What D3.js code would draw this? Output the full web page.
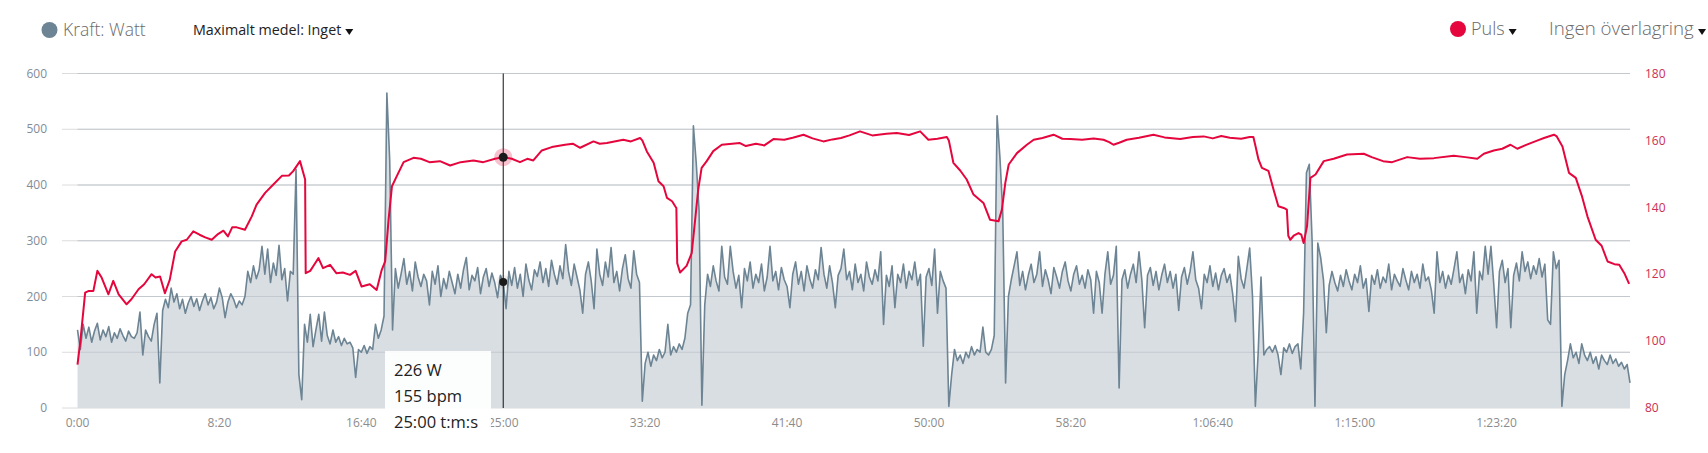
<!DOCTYPE html>
<html>
<head>
<meta charset="utf-8">
<script src="https://cdn.jsdelivr.net/npm/d3@7"></script>
<style>
  body { margin: 0; background: #fff; }
  svg { font-family: "Open Sans", "Noto Sans", sans-serif; display: block; }
</style>
</head>
<body>
<div id="graph"></div>
<script>
// power in watts, one sample every 10 seconds starting at 0:00
const STEP = 10;
const power = [
  140,105,150,125,145,118,138,152,122,140,
  128,146,118,135,125,142,130,120,138,128,
  125,135,172,95,140,128,120,150,170,45,
  175,195,180,215,190,205,178,195,170,188,
  200,182,196,175,192,205,185,198,178,190,
  215,198,162,190,205,195,180,192,185,200,
  245,225,255,232,248,290,240,285,225,260,
  238,292,230,250,192,245,240,428,60,15,
  150,118,168,110,140,168,120,172,130,115,
  140,118,128,112,125,115,118,108,55,105,
  100,112,98,110,105,150,125,140,165,565,
  445,140,250,215,240,268,222,245,210,262,
  235,218,240,228,185,245,222,255,200,232,
  214,245,225,205,240,215,248,270,212,238,
  228,252,205,235,250,218,242,225,198,238,
  226,178,245,220,252,215,240,200,258,230,
  212,248,236,262,225,250,218,265,240,222,
  255,232,293,245,220,258,235,212,170,240,
  262,228,178,285,240,220,262,235,288,225,
  245,210,250,275,232,215,282,240,225,12,
  80,100,75,95,85,105,90,100,150,95,
  110,100,115,105,125,170,185,506,440,355,
  5,185,240,218,255,228,210,290,235,222,
  290,245,215,238,180,250,228,262,215,240,
  225,258,210,235,290,228,245,212,252,230,
  218,180,240,262,222,245,210,255,232,215,
  248,230,288,240,215,255,225,180,238,250,
  285,230,245,212,258,225,240,210,262,235,
  222,248,228,280,150,238,218,255,180,240,
  225,258,215,245,230,262,220,240,111,235,
  250,220,285,170,245,228,215,3,60,105,
  85,95,80,100,90,110,95,105,100,145,
  100,95,105,130,524,450,350,45,200,230,
  255,280,220,245,212,238,258,225,240,280,
  218,248,230,205,252,235,215,245,262,228,
  210,240,255,222,238,215,248,230,170,245,
  225,170,240,280,222,238,290,36,230,248,
  215,240,258,225,280,230,144,238,252,220,
  245,212,238,258,225,245,215,240,175,235,
  252,222,245,280,230,215,178,240,225,255,
  218,242,212,238,250,225,240,205,155,272,
  232,215,250,287,200,3,100,235,95,105,
  110,100,112,95,60,108,100,115,98,110,
  115,70,170,422,437,300,3,296,270,230,
  135,220,245,225,210,238,218,248,228,212,
  240,225,255,215,232,173,238,222,248,215,
  235,225,258,212,240,228,218,250,230,212,
  245,225,240,215,258,228,235,212,170,280,
  225,245,215,238,222,250,280,225,240,205,
  248,228,280,170,245,230,290,240,290,222,
  144,245,265,225,250,144,238,260,228,280,
  245,262,232,255,240,268,235,258,158,150,
  280,250,265,3,60,85,115,90,100,80,
  115,95,85,100,80,92,70,95,85,78,
  95,80,88,75,82,70,78,45
];

// heart rate (bpm) read at these times (seconds)
const hrTimes = [
  0,10,27,40,56,70,85,109,126,145,173,190,215,235,261,275,291,308,325,344,
  367,385,408,430,450,473,495,514,530,545,561,590,614,631,661,690,720,745,760,784,
  802,804,820,835,849,865,890,912,935,960,980,1001,1030,1054,1072,1084,1096,1108,1125,1149,
  1184,1210,1240,1277,1313,1350,1395,1430,1471,1502,1530,1559,1585,1606,1636,1671,1718,1745,1771,1818,
  1840,1865,1923,1950,1982,1990,2006,2030,2047,2065,2077,2095,2106,2110,2113,2123,2146,2164,2175,2187,
  2199,2217,2240,2270,2334,2355,2390,2420,2452,2490,2520,2558,2590,2628,2660,2690,2720,2757,2800,2850,
  2887,2930,2969,2998,3030,3063,3070,3086,3110,3133,3157,3192,3215,3245,3257,3269,3281,3310,3345,3369,
  3400,3439,3470,3498,3540,3580,3615,3635,3650,3670,3697,3740,3791,3830,3885,3930,3968,4000,4030,4060,
  4100,4130,4143,4150,4161,4173,4196,4214,4231,4250,4261,4266,4273,4285,4302,4312,4320,4332,4344,4362,
  4391,4426,4473,4532,4560,4600,4632,4685,4730,4779,4849,4890,4932,4955,4990,5020,5049,5073,5100,5120,
  5145,5167,5202,5212,5232,5255,5279,5300,5320,5349,5370,5391,5415,5432,5450,5467
];
const hrValues = [
  93,100,114.5,115,115,121,119,114,118,114,111,112.5,115.5,117,120,119,119.3,114.3,118.3,126.8,
  129.8,130.3,132.8,131.8,131,130.3,132,133,131.3,134,134,133.3,137.3,140.8,144.3,146.8,149.4,149.5,150.8,153.8,
  148.3,120.3,121,123,124.8,121.8,122.8,120.3,120.5,119.8,121,116.3,117,115.3,121.3,123.8,136.3,146.3,149.3,153.5,
  154.8,154.5,153.5,153.8,152.5,153.5,154,153.5,154.5,155,154.5,153.5,154.5,154,157,158,158.7,159,157.8,159.7,
  159,159.2,160.2,159.7,160.7,160,156.7,153.3,147.8,146.3,142.8,141.8,140.3,139.8,123.3,120.5,122.5,126.3,135.3,145.3,
  151.8,153.8,156.8,158.7,159.2,158.3,159,158.5,160.4,160.2,160.8,161.7,160.6,159.7,160.3,160.7,161.5,162.7,161.5,162,
  162.2,161.6,162.7,160.2,160.5,161,160,153.3,151,148.3,143.8,141.3,136.3,135.8,139.3,147.3,152.8,156.2,158.7,160.2,
  160.7,161.7,160.5,160.4,160.2,160.6,160.2,159.5,158.7,159.3,160.2,160.8,161.7,160.9,160.4,161,161.2,160.6,161.3,160.8,
  160.5,161,161,158.5,154.3,151.8,150.9,145.3,140.3,139.8,139.3,131.5,130.3,131.5,132.3,131.8,129.3,134.3,148.8,149.8,
  153.8,154.5,155.8,156,155,153.8,153.5,155,154.5,154.7,155.4,155,154.5,156,157,157.5,158.7,157.5,158.5,159.2,
  160,160.7,161.7,161.2,158.2,150.3,148.8,143.5,137.3,130.3,128.5,123.8,123,122.8,120.3,117.1
];

const powerTicks = [0, 100, 200, 300, 400, 500, 600];
const hrTicks = [80, 100, 120, 140, 160, 180];
const timeTicks = [0, 500, 1000, 1500, 2000, 2500, 3000, 3500, 4000, 4500, 5000];
const hoverTime = 1500;

const WIDTH = 1708, HEIGHT = 453;
const plot = {left: 77.5, right: 1630, top: 73.5, bottom: 408};
const duration = (power.length - 1) * STEP;

let svg = d3.select("#graph")
    .append("svg")
    .attr("width", WIDTH)
    .attr("height", HEIGHT);

let x = d3.scaleLinear().domain([0, duration]).range([plot.left, plot.right]);
let yP = d3.scaleLinear().domain([0, 600]).range([plot.bottom, plot.top]);
let yH = d3.scaleLinear().domain([80, 180]).range([plot.bottom, plot.top]);

function fmtTime(s) {
    let h = Math.floor(s / 3600), m = Math.floor((s % 3600) / 60), sec = s % 60;
    let ss = (sec < 10 ? "0" : "") + sec;
    if (h > 0) return h + ":" + (m < 10 ? "0" : "") + m + ":" + ss;
    return m + ":" + ss;
}

// grid lines
svg.append("g").selectAll("line").data(powerTicks).enter()
    .append("line")
    .attr("x1", 62).attr("x2", plot.right)
    .attr("y1", d => yP(d)).attr("y2", d => yP(d))
    .attr("stroke", "#dcdcdc").attr("stroke-width", 1);

// power area + line
let pData = power.map((v, i) => ({t: i * STEP, v: v}));

svg.append("path")
    .datum(pData)
    .attr("fill", "#d9dee3")
    .attr("d", d3.area().x(d => x(d.t)).y0(yP(0)).y1(d => yP(d.v)));

// grid lines visible over the area
svg.append("g").selectAll("line").data(powerTicks.slice(1)).enter()
    .append("line")
    .attr("x1", plot.left).attr("x2", plot.right)
    .attr("y1", d => yP(d)).attr("y2", d => yP(d))
    .attr("stroke", "#c3c9cf").attr("stroke-width", 1);

svg.append("path")
    .datum(pData)
    .attr("fill", "none")
    .attr("stroke", "#6c8493")
    .attr("stroke-width", 1.6)
    .attr("stroke-linejoin", "round")
    .attr("d", d3.line().x(d => x(d.t)).y(d => yP(d.v)));

// heart rate line
let hData = hrTimes.map((t, i) => ({t: t, v: hrValues[i]}));

svg.append("path")
    .datum(hData)
    .attr("fill", "none")
    .attr("stroke", "#e4063d")
    .attr("stroke-width", 2)
    .attr("stroke-linejoin", "round")
    .attr("d", d3.line().x(d => x(d.t)).y(d => yH(d.v)));

// axis labels
svg.append("g").selectAll("text").data(powerTicks).enter()
    .append("text")
    .attr("x", 47).attr("y", d => yP(d)).attr("dy", "0.35em")
    .attr("text-anchor", "end")
    .style("font-size", "12px").style("fill", "#7f8d99")
    .text(d => d);

svg.append("g").selectAll("text").data(hrTicks).enter()
    .append("text")
    .attr("x", 1645).attr("y", d => yH(d)).attr("dy", "0.35em")
    .style("font-size", "12px").style("fill", "#cc2f55")
    .text(d => d);

svg.append("g").selectAll("text").data(timeTicks).enter()
    .append("text")
    .attr("x", d => x(d)).attr("y", 427)
    .attr("text-anchor", "middle")
    .style("font-size", "12px").style("fill", "#8c8c8c")
    .text(d => fmtTime(d));

// hover marker at 25:00
let pv = power[Math.round(hoverTime / STEP)];
let hi = d3.bisector(d => d.t).left(hData, hoverTime);
let a = hData[hi - 1], b = hData[hi];
let hv = a.v + (b.v - a.v) * (hoverTime - a.t) / (b.t - a.t);

svg.append("line")
    .attr("x1", x(hoverTime)).attr("x2", x(hoverTime))
    .attr("y1", plot.top).attr("y2", plot.bottom)
    .attr("stroke", "#111").attr("stroke-width", 1);

svg.append("circle").attr("cx", x(hoverTime)).attr("cy", yH(hv)).attr("r", 9)
    .attr("fill", "rgba(228,6,61,0.25)");
svg.append("circle").attr("cx", x(hoverTime)).attr("cy", yH(hv)).attr("r", 4.5)
    .attr("fill", "#1a1a1a");
svg.append("circle").attr("cx", x(hoverTime)).attr("cy", yP(pv)).attr("r", 7)
    .attr("fill", "rgba(0,0,0,0.06)");
svg.append("circle").attr("cx", x(hoverTime)).attr("cy", yP(pv)).attr("r", 4)
    .attr("fill", "#1a1a1a");

// tooltip box
let tip = svg.append("g").attr("transform", "translate(385, 351)");
tip.append("rect").attr("width", 106).attr("height", 84)
    .attr("fill", "rgba(255,255,255,0.92)");
let tipLines = [Math.round(pv) + " W", Math.round(hv) + " bpm", fmtTime(hoverTime) + " t:m:s"];
tip.selectAll("text").data(tipLines).enter()
    .append("text")
    .attr("x", 9).attr("y", (d, i) => 25 + i * 26)
    .style("font-size", "16.5px").style("fill", "#222")
    .text(d => d);

// legend, left
svg.append("circle").attr("cx", 49.5).attr("cy", 30).attr("r", 8).attr("fill", "#6c8493");
svg.append("text").attr("x", 63).attr("y", 36)
    .style("font-size", "17.5px").style("font-weight", 300).style("fill", "#6a6a6a")
    .text("Kraft: Watt");
let medel = svg.append("text").attr("x", 193).attr("y", 35)
    .style("font-size", "14.3px").style("fill", "#222")
    .text("Maximalt medel: Inget");

// legend, right
svg.append("circle").attr("cx", 1458).attr("cy", 29).attr("r", 8).attr("fill", "#e4063d");
let puls = svg.append("text").attr("x", 1471).attr("y", 35)
    .style("font-size", "18px").style("font-weight", 300).style("fill", "#6a6a6a")
    .text("Puls");
let overlay = svg.append("text").attr("x", 1549).attr("y", 35)
    .style("font-size", "18.7px").style("font-weight", 300).style("fill", "#6a6a6a")
    .text("Ingen överlagring");

// small dropdown arrows right after each menu text
let arrows = [medel, puls, overlay].map(t => t.node().getBBox()).map(bb => bb.x + bb.width + 8);
svg.append("g").selectAll("path").data(arrows).enter()
    .append("path")
    .attr("d", d => "M" + (d - 4) + ",29 L" + (d + 4) + ",29 L" + d + ",35 Z")
    .attr("fill", "#111");
</script>
</body>
</html>
